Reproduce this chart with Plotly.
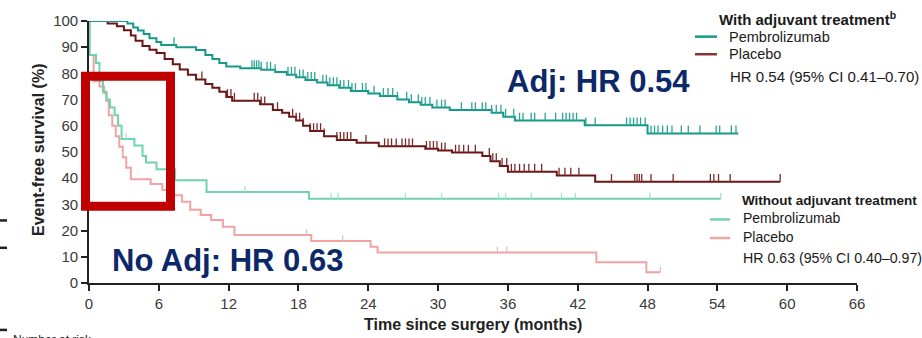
import numpy as np
import plotly.graph_objects as go

# ---- Kaplan–Meier step data: time since surgery (months) / event-free survival (%) ----
adj_pembro_t = [0, 3.3, 3.8, 4.2, 4.7, 5.2, 5.8, 6.2, 7.5, 9.2, 10.0, 10.6, 11.2, 11.8, 13.0, 14.8,
                16.0, 17.0, 17.8, 18.6, 19.6, 20.5, 21.5, 22.5, 24.0, 25.0, 26.5, 27.5, 28.5, 29.5,
                31.0, 34.6, 35.6, 36.6, 42.6, 48.0]
adj_pembro_s = [100, 99, 97.5, 96.4, 95, 93.4, 92, 90.8, 90, 88.9, 87, 85.5, 84, 82.6, 82, 81.4,
                80.5, 79.5, 78.5, 77.5, 76.5, 75.5, 74.5, 73.3, 72.3, 71.4, 70, 69, 68, 67,
                66, 65, 63.5, 62, 60.2, 57.1]
adj_pembro_end = 55.8
adj_pembro_cens = [7.3, 14.0, 14.2, 14.4, 14.6, 14.8, 15.3, 15.6, 16.0, 17.1, 17.4, 17.7, 18.1, 18.4,
                   18.8, 19.1, 19.4, 20.1, 20.4, 20.7, 21.0, 21.3, 21.6, 21.9, 22.3, 22.6, 22.9, 23.5,
                   23.8, 24.5, 25.3, 25.7, 26.1, 26.5, 27.3, 27.7, 28.3, 28.6, 28.9, 29.3, 29.9, 30.3,
                   30.6, 32.0, 32.9, 33.2, 33.8, 34.1, 34.6, 35.0, 35.4, 35.8, 36.5, 37.0, 37.3, 38.0,
                   38.3, 39.2, 40.1, 40.7, 41.0, 41.3, 41.6, 41.9, 42.7, 43.5, 46.2, 46.5, 46.8, 47.1,
                   47.4, 47.8, 48.3, 48.6, 48.9, 49.3, 49.7, 50.1, 50.9, 51.5, 52.5, 53.9, 54.2, 55.2,
                   55.6]

adj_placebo_t = [0, 1.6, 2.4, 3.0, 3.6, 4.0, 4.6, 5.2, 5.8, 6.5, 7.2, 7.8, 8.5, 9.2, 10.0, 10.6,
                 11.2, 11.8, 12.3, 14.7, 15.8, 16.6, 17.2, 17.8, 18.4, 19.0, 20.2, 21.3, 23.0, 24.9,
                 28.9, 30.0, 31.2, 33.8, 34.5, 35.3, 36.0, 40.2, 43.5]
adj_placebo_s = [100, 99, 98, 96.5, 94.5, 92.5, 90.5, 89, 87.8, 85.5, 83.5, 81.5, 79.5, 77.7, 76,
                 74.5, 73, 71, 69.6, 68.2, 66, 65, 63.5, 62, 60, 58, 56, 54.6, 53.5, 52.2,
                 51.2, 50.6, 49.8, 48.5, 46.5, 44.7, 42.5, 41, 38.6]
adj_placebo_end = 59.4
adj_placebo_cens = [1.2, 1.5, 9.7, 11.9, 12.2, 12.5, 14.2, 14.5, 14.8, 15.1, 16.2, 17.5, 17.8, 18.1,
                    18.4, 19.0, 19.3, 19.6, 19.9, 20.2, 21.3, 21.6, 21.9, 22.2, 22.5, 23.8, 25.4,
                    25.7, 26.0, 26.4, 26.9, 27.2, 27.5, 27.8, 29.0, 29.3, 29.6, 29.9, 30.3, 30.6,
                    31.5, 31.8, 32.2, 32.6, 33.2, 34.4, 34.7, 35.0, 35.5, 35.9, 36.3, 36.6, 37.0,
                    37.4, 37.8, 38.3, 38.9, 40.4, 40.9, 41.4, 42.1, 44.9, 46.9, 47.1, 47.3, 47.5,
                    48.3, 50.2, 53.4, 53.7, 54.1, 55.1, 59.4]

noadj_pembro_t = [0, 0.05, 0.6, 0.9, 1.2, 1.5, 1.8, 2.2, 2.5, 2.8, 3.9, 4.6, 4.9, 5.8, 7.4, 10.1, 18.9]
noadj_pembro_s = [100, 87, 84, 77, 73, 70, 67, 64, 60, 55, 52.5, 48.5, 46, 43.4, 39.2, 34.7, 32.2]
noadj_pembro_end = 54.3
noadj_pembro_cens = [0.0, 3.2, 13.4, 20.8, 21.4, 27.2, 30.3, 35.2, 35.8, 38.0, 40.6, 41.8, 48.2, 54.3]

noadj_placebo_t = [0, 0.05, 0.4, 0.9, 1.3, 1.5, 1.7, 2.0, 2.3, 2.6, 2.9, 3.2, 3.6, 5.3, 6.3, 7.2,
                   8.0, 8.7, 9.6, 10.5, 11.5, 12.5, 19.1, 24.2, 24.8, 43.6, 47.9]
noadj_placebo_s = [100, 87, 77, 75, 72.5, 69.5, 64, 60, 56, 52, 48, 44, 39.6, 37.8, 35.5, 33.5,
                   31, 28, 26, 24, 21.5, 18.3, 16, 13.8, 11.6, 7.9, 4.1]
noadj_placebo_end = 49.1
noadj_placebo_cens = [2.9, 18.7, 21.8, 35.1, 35.9, 49.1]

x_ticks = [0, 6, 12, 18, 24, 30, 36, 42, 48, 54, 60, 66]
y_ticks = [0, 10, 20, 30, 40, 50, 60, 70, 80, 90, 100]

TEAL = "#17998a"
MAROON = "#6a1616"
MINT = "#6fd3ad"
PINK = "#f3a2a2"
NAVY = "#0c2868"
BOX_RED = "#c00000"
FONT = "Liberation Sans, Arial, sans-serif"

# plot-area geometry in pixels (used to place legend items and call-outs)
L, T, PW, PH = 89, 15, 768, 268


def px_x(px):
    return (px - L) / PW


def px_y(py):
    return (T + PH - py) / PH


def surv_at(t, s, times):
    idx = np.searchsorted(np.asarray(t), np.asarray(times), side="right") - 1
    return np.asarray(s)[idx]


fig = go.Figure()


def add_km(t, s, end, cens, color, width, tick_h, tick_color):
    fig.add_trace(go.Scatter(
        x=list(t) + [end], y=list(s) + [s[-1]], mode="lines",
        line=dict(color=color, width=width, shape="hv"), showlegend=False, hoverinfo="skip"))
    vals = surv_at(t, s, cens)
    fig.add_trace(go.Scatter(
        x=cens, y=vals, mode="markers",
        marker=dict(size=1, color="rgba(0,0,0,0)"),
        error_y=dict(type="data", symmetric=False, array=[tick_h] * len(cens),
                     arrayminus=[0] * len(cens), width=0, thickness=1.3, color=tick_color),
        showlegend=False, hoverinfo="skip"))


add_km(noadj_placebo_t, noadj_placebo_s, noadj_placebo_end, noadj_placebo_cens, PINK, 2, 2.2, "#d9c4c4")
add_km(noadj_pembro_t, noadj_pembro_s, noadj_pembro_end, noadj_pembro_cens, MINT, 2, 2.2, "#a6e3cb")
add_km(adj_placebo_t, adj_placebo_s, adj_placebo_end, adj_placebo_cens, MAROON, 2, 3.0, "#7a2a2a")
add_km(adj_pembro_t, adj_pembro_s, adj_pembro_end, adj_pembro_cens, TEAL, 2, 3.0, "#2aa596")

axis_common = dict(showgrid=False, zeroline=False, showline=True, linecolor="#222222", linewidth=1.6,
                   ticks="outside", ticklen=6, tickwidth=1.6, tickcolor="#222222",
                   tickfont=dict(family=FONT, size=15, color="#3a3a3a"))

fig.update_layout(
    width=922, height=338,
    margin=dict(l=L, r=922 - L - PW, t=T, b=338 - T - PH),
    paper_bgcolor="white", plot_bgcolor="white",
    xaxis=dict(range=[0, 66], tickvals=x_ticks, **axis_common),
    yaxis=dict(range=[0, 100], tickvals=y_ticks, **axis_common),
    font=dict(family=FONT),
)

shapes = []
annotations = []

# axis titles
annotations.append(dict(text="<b>Time since surgery (months)</b>", xref="paper", yref="paper",
                        x=0.5, y=px_y(325), xanchor="center", yanchor="middle", showarrow=False,
                        font=dict(family=FONT, size=16, color="#222222")))
annotations.append(dict(text="<b>Event-free survival (%)</b>", xref="paper", yref="paper",
                        x=px_x(38), y=px_y(147), xanchor="center", yanchor="middle", showarrow=False,
                        textangle=-90, font=dict(family=FONT, size=16, color="#222222")))


def legend_line(x0, x1, py, color):
    shapes.append(dict(type="line", xref="paper", yref="paper", x0=px_x(x0), x1=px_x(x1),
                       y0=px_y(py), y1=px_y(py), line=dict(color=color, width=2.5)))


def legend_text(text, px, py, size, bold=False):
    annotations.append(dict(text=f"<b>{text}</b>" if bold else text, xref="paper", yref="paper",
                            x=px_x(px), y=px_y(py), xanchor="left", yanchor="middle",
                            showarrow=False, font=dict(family=FONT, size=size, color="#1a1a1a")))


legend_text("With adjuvant treatment<sup>b</sup>", 717, 12, 15, bold=True)
legend_line(695, 717, 31, TEAL)
legend_text("Pembrolizumab", 727, 31, 14.5)
legend_line(695, 717, 49, "#8a3434")
legend_text("Placebo", 727, 49, 14.5)
legend_text("HR 0.54 (95% CI 0.41–0.70)", 728, 72, 15)

legend_text("Without adjuvant treatment", 740, 199, 13.5, bold=True)
legend_line(710, 730, 218, MINT)
legend_text("Pembrolizumab", 741, 217, 14)
legend_line(710, 730, 237, PINK)
legend_text("Placebo", 741, 236, 14)
legend_text("HR 0.63 (95% CI 0.40–0.97)", 741, 257, 14.2)

# hazard-ratio call-outs
annotations.append(dict(text="<b>Adj: HR 0.54</b>", xref="paper", yref="paper",
                        x=px_x(598), y=px_y(77), xanchor="center", yanchor="middle", showarrow=False,
                        font=dict(family=FONT, size=31, color=NAVY)))
annotations.append(dict(text="<b>No Adj: HR 0.63</b>", xref="paper", yref="paper",
                        x=px_x(110), y=px_y(260), xanchor="left", yanchor="middle", showarrow=False,
                        font=dict(family=FONT, size=31, color=NAVY)))

# highlight box over the early no-adjuvant drop
shapes.append(dict(type="rect", xref="paper", yref="paper", x0=px_x(85.5), x1=px_x(170.5),
                   y0=px_y(204.5), y1=px_y(71.5), line=dict(color=BOX_RED, width=9),
                   fillcolor="rgba(0,0,0,0)", layer="above"))

# edge of the number-at-risk table below the chart
for py in (219, 247, 331):
    shapes.append(dict(type="line", xref="paper", yref="paper", x0=px_x(0), x1=px_x(7),
                       y0=px_y(py), y1=px_y(py), line=dict(color="#222222", width=2.5)))
annotations.append(dict(text="Number at risk", xref="paper", yref="paper", x=px_x(11), y=px_y(332),
                        xanchor="left", yanchor="top", showarrow=False,
                        font=dict(family=FONT, size=12, color="#222222")))

fig.update_layout(shapes=shapes, annotations=annotations)
fig.write_html("out.html")
